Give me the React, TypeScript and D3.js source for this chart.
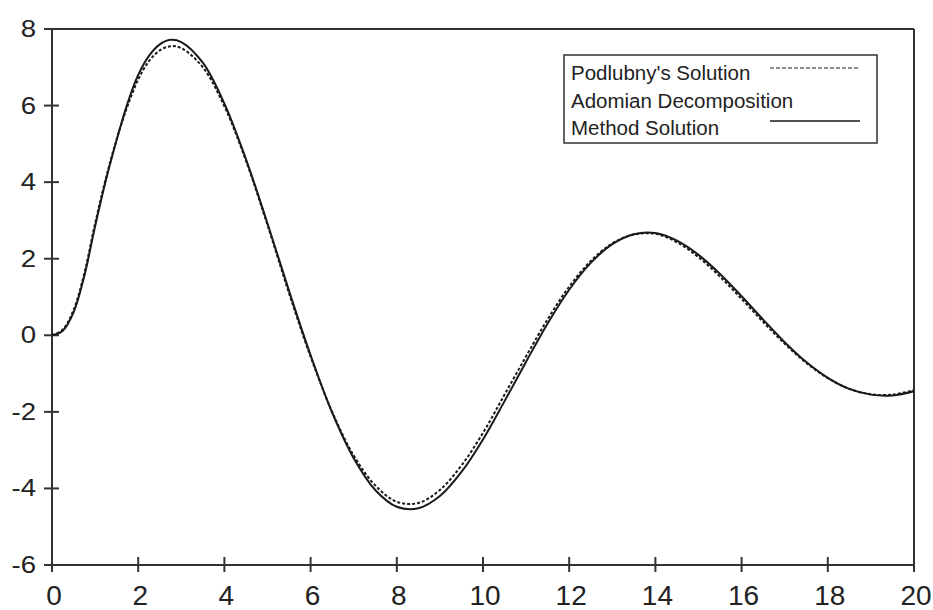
import React from "react";
import * as d3 from "d3";

const tValues = [0, 0.25, 0.5, 0.75, 1, 1.25, 1.5, 1.75, 2, 2.25, 2.5, 2.75, 3, 3.5, 4, 4.5, 5, 5.5, 6, 6.5, 7, 7.5, 8, 8.5, 9, 9.5, 10, 10.5, 11, 11.5, 12, 12.5, 13, 13.5, 14, 14.5, 15, 15.5, 16, 16.5, 17, 17.5, 18, 18.5, 19, 19.5, 20];
const adomian = [0, 0.12, 0.6, 1.55, 2.85, 4.05, 5.1, 6.05, 6.8, 7.3, 7.6, 7.72, 7.66, 7.12, 6.05, 4.6, 2.92, 1.16, -0.52, -2.02, -3.21, -4.04, -4.48, -4.52, -4.2, -3.57, -2.72, -1.72, -0.69, 0.31, 1.19, 1.89, 2.38, 2.64, 2.67, 2.47, 2.1, 1.6, 1.02, 0.41, -0.18, -0.7, -1.11, -1.4, -1.55, -1.57, -1.46];
const podlubny = [0, 0.15, 0.66, 1.62, 2.92, 4.1, 5.12, 5.98, 6.68, 7.16, 7.44, 7.55, 7.5, 7.0, 5.98, 4.56, 2.88, 1.1, -0.56, -2.0, -3.14, -3.92, -4.35, -4.38, -4.04, -3.4, -2.55, -1.55, -0.55, 0.42, 1.27, 1.94, 2.4, 2.63, 2.65, 2.43, 2.04, 1.53, 0.95, 0.35, -0.22, -0.72, -1.12, -1.4, -1.54, -1.55, -1.43];
const xTicks = [0, 2, 4, 6, 8, 10, 12, 14, 16, 18, 20];
const yTicks = [-6, -4, -2, 0, 2, 4, 6, 8];
const legendLabels = ["Podlubny's Solution", "Adomian Decomposition", "Method Solution"];

export default function App() {
  const W = 933, H = 610;
  const x = d3.scaleLinear().domain([0, 20]).range([52, 914]);
  const y = d3.scaleLinear().domain([-6, 8]).range([565, 29]);
  const line = (vals: number[]) =>
    d3.line<number>()
      .x((_, i) => x(tValues[i]))
      .y((d) => y(d))
      .curve(d3.curveCatmullRom.alpha(0.5))(vals) || "";
  const ink = "#1a1a1a";
  const axisInk = "#333";
  const font = "'Liberation Sans', Arial, sans-serif";
  return (
    <svg width={W} height={H} style={{ position: "absolute", left: 0, top: 0, background: "#fff" }}>
      <rect x={0} y={0} width={W} height={H} fill="#fff" />
      {/* frame */}
      <line x1={x(0)} x2={x(20)} y1={y(8)} y2={y(8)} stroke={axisInk} strokeWidth={2} />
      <line x1={x(20)} x2={x(20)} y1={y(8)} y2={y(-6)} stroke={axisInk} strokeWidth={2} />
      <line x1={x(0)} x2={x(0)} y1={y(8)} y2={y(-6)} stroke={axisInk} strokeWidth={2} />
      <line x1={x(0)} x2={x(20)} y1={y(-6)} y2={y(-6)} stroke={axisInk} strokeWidth={2} />
      {yTicks.map((v) => (
        <g key={"y" + v}>
          <line x1={x(0) - 8} x2={x(0) + 7} y1={y(v)} y2={y(v)} stroke={axisInk} strokeWidth={2} />
          <text
            x={0}
            y={0}
            transform={`translate(36,${y(v) + 8}) scale(1.2,1)`}
            textAnchor="end"
            fontFamily={font}
            fontSize={23}
            fill="#222"
          >
            {v}
          </text>
        </g>
      ))}
      {xTicks.map((v) => (
        <g key={"x" + v}>
          <line x1={x(v)} x2={x(v)} y1={y(-6) - 8} y2={y(-6) + 7} stroke={axisInk} strokeWidth={2} />
          <text x={x(v) + 2} y={605} textAnchor="middle" fontFamily={font} fontSize={28} fill="#222">
            {v}
          </text>
        </g>
      ))}
      {/* curves */}
      <path d={line(adomian)} fill="none" stroke={ink} strokeWidth={2} />
      <path d={line(podlubny)} fill="none" stroke={ink} strokeWidth={2} strokeDasharray="3,2" />
      {/* legend */}
      <rect x={564} y={55} width={313} height={88} fill="#fff" stroke={axisInk} strokeWidth={1.5} />
      <text x={571} y={80} fontFamily={font} fontSize={20.5} fill="#222">{legendLabels[0]}</text>
      <text x={571} y={108} fontFamily={font} fontSize={20.5} fill="#222">{legendLabels[1]}</text>
      <text x={571} y={135} fontFamily={font} fontSize={20.5} fill="#222">{legendLabels[2]}</text>
      <line x1={770} x2={860} y1={68} y2={68} stroke={ink} strokeWidth={1.2} strokeDasharray="4,2" />
      <line x1={770} x2={860} y1={121} y2={121} stroke={ink} strokeWidth={1.5} />
    </svg>
  );
}
